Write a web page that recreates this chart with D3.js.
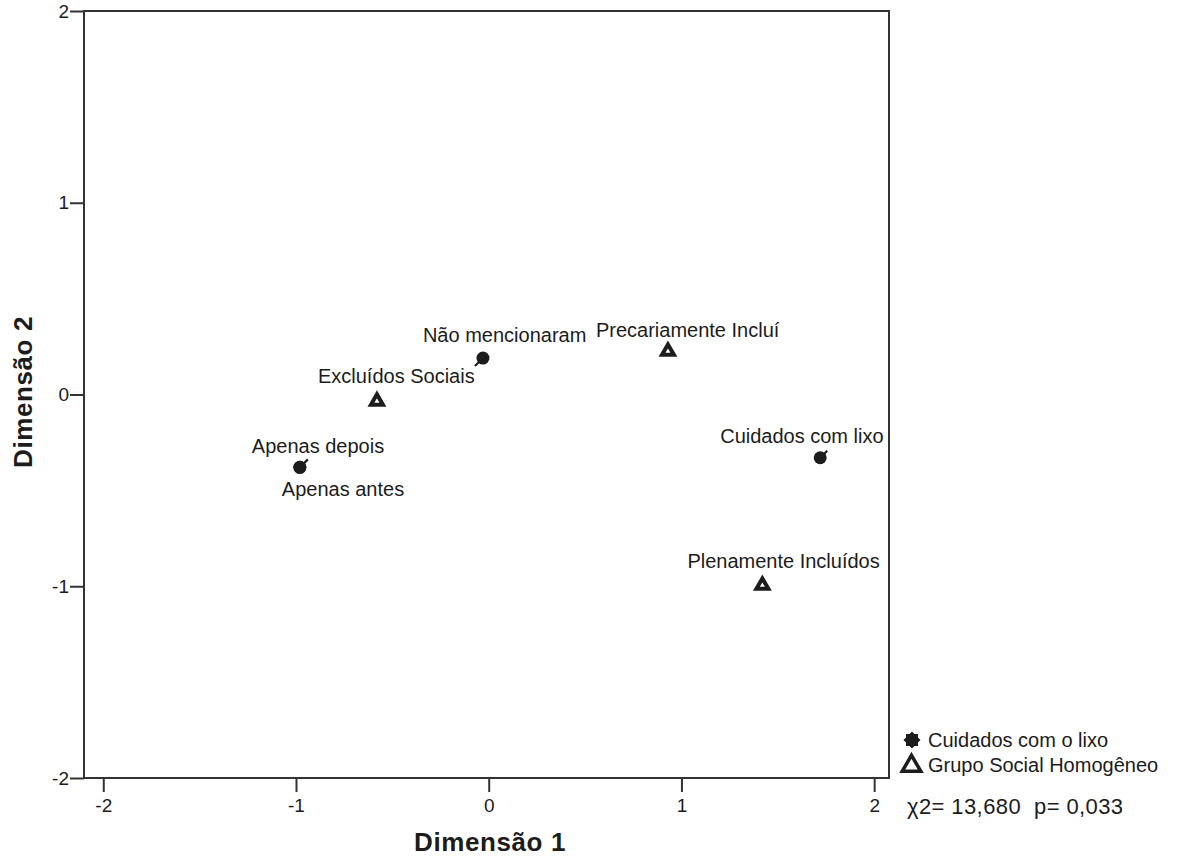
<!DOCTYPE html>
<html>
<head>
<meta charset="utf-8">
<script src="https://cdn.jsdelivr.net/npm/d3@7"></script>
<style>
  html, body { margin: 0; padding: 0; background: #fff; }
  svg { display: block; }
  text { font-family: "Liberation Sans", Arial, sans-serif; fill: #1c1c1c; }
</style>
</head>
<body>
<svg id="chart" width="1177" height="866"></svg>
<script>
// ---- data ----
const categories = ["Não mencionaram", "Precariamente Incluí", "Excluídos Sociais", "Apenas depois", "Apenas antes", "Cuidados com lixo", "Plenamente Incluídos"];
const dimension1 = [-0.03, 0.93, -0.58, -0.98, -0.98, 1.72, 1.42];
const dimension2 = [0.19, 0.23, -0.03, -0.38, -0.38, -0.33, -0.99];
const groups = ["Cuidados com o lixo", "Grupo Social Homogêneo", "Grupo Social Homogêneo", "Cuidados com o lixo", "Cuidados com o lixo", "Cuidados com o lixo", "Grupo Social Homogêneo"];
const legendLabels = ["Cuidados com o lixo", "Grupo Social Homogêneo"];
const xTicks = [-2, -1, 0, 1, 2];
const yTicks = [-2, -1, 0, 1, 2];
const xTitle = "Dimensão 1";
const yTitle = "Dimensão 2";
const statText = "χ2= 13,680\u00A0\u00A0p= 0,033";

// ---- layout ----
const svg = d3.select("#chart");
const pLeft = 84, pRight = 889, pTop = 11, pBottom = 778;
const x = d3.scaleLinear().domain([-2.1, 2.077]).range([pLeft, pRight]);
const y = d3.scaleLinear().domain([-2, 2]).range([pBottom, pTop]);
const ink = "#1c1c1c";
const fmt = d => String(d);

// label offsets (pixels relative to point) and leader tails
const labelLayout = {
  "Não mencionaram": {dx: -60, dy: -16, tail: [-8, 8]},
  "Precariamente Incluí": {dx: -72, dy: -13},
  "Excluídos Sociais": {dx: -59, dy: -17},
  "Apenas depois": {dx: -48, dy: -14, tail: [8, -8]},
  "Apenas antes": {dx: -18, dy: 29},
  "Cuidados com lixo": {dx: -100, dy: -15, tail: [7, -7]},
  "Plenamente Incluídos": {dx: -75, dy: -16}
};

// frame
svg.append("rect")
  .attr("x", pLeft).attr("y", pTop)
  .attr("width", pRight - pLeft).attr("height", pBottom - pTop)
  .attr("fill", "none").attr("stroke", "#333").attr("stroke-width", 2);

// y axis
const yAxis = svg.append("g")
  .attr("transform", `translate(${pLeft},0)`)
  .call(d3.axisLeft(y).tickValues(yTicks).tickSize(14).tickPadding(1).tickFormat(fmt));
yAxis.select(".domain").remove();
yAxis.selectAll("line").attr("stroke", "#333").attr("stroke-width", 2);
yAxis.selectAll("text").attr("font-size", 19).attr("fill", ink)
  .style("font-family", "'Liberation Sans', Arial, sans-serif");

// x axis
const xAxis = svg.append("g")
  .attr("transform", `translate(0,${pBottom})`)
  .call(d3.axisBottom(x).tickValues(xTicks).tickSize(14).tickPadding(7).tickFormat(fmt));
xAxis.select(".domain").remove();
xAxis.selectAll("line").attr("stroke", "#333").attr("stroke-width", 2);
xAxis.selectAll("text").attr("font-size", 19).attr("fill", ink)
  .style("font-family", "'Liberation Sans', Arial, sans-serif");

// titles
svg.append("text")
  .attr("x", 490).attr("y", 851)
  .attr("text-anchor", "middle")
  .attr("font-size", 26).attr("font-weight", "bold").attr("letter-spacing", 0.6)
  .text(xTitle);
svg.append("text")
  .attr("transform", "translate(32,392) rotate(-90)")
  .attr("text-anchor", "middle")
  .attr("font-size", 26).attr("font-weight", "bold").attr("letter-spacing", 0.6)
  .text(yTitle);

// marker helpers
function drawMarker(g, group, cx, cy, big) {
  if (group === legendLabels[0]) {
    g.append("circle").attr("cx", cx).attr("cy", cy).attr("r", 6.5).attr("fill", ink);
  } else {
    const s = d3.symbol().type(d3.symbolTriangle).size(big ? 150 : 62)();
    g.append("path").attr("d", s)
      .attr("transform", `translate(${cx},${cy + 1})`)
      .attr("fill", "#fff").attr("stroke", ink)
      .attr("stroke-width", big ? 3.5 : 4).attr("stroke-linejoin", "miter");
  }
}

// points
const data = categories.map((c, i) => ({name: c, v1: dimension1[i], v2: dimension2[i], group: groups[i]}));
const pg = svg.append("g");
data.forEach(d => {
  const cx = x(d.v1), cy = y(d.v2);
  const L = labelLayout[d.name];
  if (L.tail) {
    pg.append("line")
      .attr("x1", cx).attr("y1", cy)
      .attr("x2", cx + L.tail[0]).attr("y2", cy + L.tail[1])
      .attr("stroke", ink).attr("stroke-width", 2.2);
  }
  drawMarker(pg, d.group, cx, cy, false);
  pg.append("text")
    .attr("x", cx + L.dx).attr("y", cy + L.dy)
    .attr("font-size", 20)
    .text(d.name);
});

// legend
const lg = svg.append("g");
legendLabels.forEach((lab, i) => {
  const cy = 740 + i * 25;
  if (i === 0) {
    const pts = d3.range(16).map(k => {
      const a = k * Math.PI / 8;
      const r = k % 2 === 0 ? 8.5 : 6.5;
      return [912 + r * Math.cos(a), cy + r * Math.sin(a)];
    });
    lg.append("path").attr("d", d3.line().curve(d3.curveLinearClosed)(pts)).attr("fill", ink);
  } else {
    drawMarker(lg, lab, 911.5, cy, true);
  }
  lg.append("text").attr("x", 928).attr("y", cy + 7).attr("font-size", 20).text(lab);
});
svg.append("text").attr("x", 907).attr("y", 814).attr("font-size", 22).attr("letter-spacing", 0.4).text(statText);
</script>
</body>
</html>
